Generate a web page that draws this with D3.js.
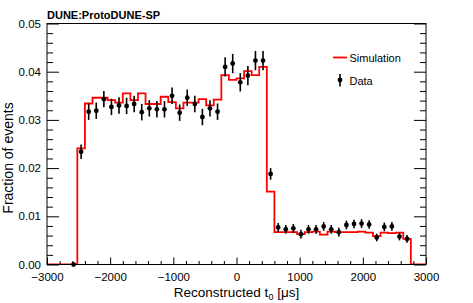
<!DOCTYPE html>
<html>
<head>
<meta charset="utf-8">
<script src="https://cdn.jsdelivr.net/npm/d3@7"></script>
<style>
  body { margin: 0; background: #fff; }
  text { font-family: "Liberation Sans", Arial, Helvetica, sans-serif; }
</style>
</head>
<body>
<div id="chart"></div>
<script>
// bin centres in microseconds (bin width 120)
const binCenters = [-2460, -2340, -2220, -2100, -1980, -1860, -1740, -1620, -1500, -1380,
  -1260, -1140, -1020, -900, -780, -660, -540, -420, -300, -180,
  -60, 60, 180, 300, 420, 540, 660, 780, 900, 1020,
  1140, 1260, 1380, 1500, 1620, 1740, 1860, 1980, 2100, 2220,
  2340, 2460, 2580, 2700];

const simFraction = [0.0241, 0.0334, 0.0346, 0.0346, 0.0341, 0.0336, 0.0355, 0.0341, 0.0355, 0.0333,
  0.0333, 0.0348, 0.0337, 0.0324, 0.0336, 0.0336, 0.0343, 0.0330, 0.0342, 0.0393,
  0.0383, 0.0386, 0.0401, 0.0393, 0.0410, 0.0151, 0.0067, 0.0067, 0.0067, 0.0063,
  0.0067, 0.0068, 0.0062, 0.0068, 0.0067, 0.0067, 0.0067, 0.0068, 0.0066, 0.0059,
  0.0066, 0.0065, 0.0066, 0.0053];

const dataT = [-2580, -2460, -2340, -2220, -2100, -1980, -1860, -1740, -1620, -1500, -1380,
  -1260, -1140, -1020, -900, -780, -660, -540, -420, -300, -180,
  -60, 60, 180, 300, 420, 540, 660, 780, 900, 1020,
  1140, 1260, 1380, 1500, 1620, 1740, 1860, 1980, 2100, 2220,
  2340, 2460, 2580, 2700];

const dataFraction = [0, 0.0234, 0.0317, 0.0319, 0.0343, 0.0327, 0.0330, 0.0329, 0.0333, 0.0316, 0.0324,
  0.0322, 0.0322, 0.0350, 0.0315, 0.0346, 0.0333, 0.0306, 0.0324, 0.0317, 0.0410,
  0.0417, 0.0378, 0.0392, 0.0423, 0.0423, 0.0188, 0.0077, 0.0073, 0.0075, 0.0063,
  0.0073, 0.0073, 0.0079, 0.0073, 0.0067, 0.0082, 0.0084, 0.0085, 0.0083, 0.0056,
  0.0078, 0.0079, 0.0058, 0.0053];

const dataError = [0, 0.0015, 0.0017, 0.0017, 0.0017, 0.0017, 0.0017, 0.0017, 0.0017, 0.0017, 0.0017,
  0.0017, 0.0017, 0.0017, 0.0017, 0.0017, 0.0017, 0.0017, 0.0017, 0.0017, 0.0020,
  0.0020, 0.0019, 0.0020, 0.0020, 0.0020, 0.0012, 0.0009, 0.0009, 0.0009, 0.0009,
  0.0009, 0.0009, 0.0009, 0.0009, 0.0009, 0.0009, 0.0009, 0.0009, 0.0009, 0.0008,
  0.0009, 0.0009, 0.0008, 0.0008];

const xTicks = [-3000, -2000, -1000, 0, 1000, 2000, 3000];
const yTicks = [0, 0.01, 0.02, 0.03, 0.04, 0.05];
const chartTitle = "DUNE:ProtoDUNE-SP";
const legendLabels = ["Simulation", "Data"];

const width = 473, height = 303;
const margin = { top: 23.5, right: 47, bottom: 38.5, left: 47 };
const binWidth = 120;

const svg = d3.select("#chart").append("svg")
  .attr("width", width)
  .attr("height", height);

const x = d3.scaleLinear().domain([-3000, 3000]).range([margin.left, width - margin.right]);
const y = d3.scaleLinear().domain([0, 0.05]).range([height - margin.bottom, margin.top]);

svg.append("clipPath").attr("id", "plot-clip")
  .append("rect")
  .attr("x", margin.left).attr("y", margin.top)
  .attr("width", width - margin.left - margin.right)
  .attr("height", height - margin.top - margin.bottom);

// simulation histogram as a step outline
const steps = [[-3000, 0], [binCenters[0] - binWidth / 2, 0]];
binCenters.forEach((c, i) => {
  steps.push([c - binWidth / 2, simFraction[i]]);
  steps.push([c + binWidth / 2, simFraction[i]]);
});
steps.push([binCenters[binCenters.length - 1] + binWidth / 2, 0]);
steps.push([3000, 0]);

const line = d3.line().x(d => x(d[0])).y(d => y(d[1]));

svg.append("path")
  .datum(steps)
  .attr("clip-path", "url(#plot-clip)")
  .attr("fill", "none")
  .attr("stroke", "#ff0000")
  .attr("stroke-width", 1.8)
  .attr("d", line);

// data points with error bars
const pts = dataT.map((t, i) => ({ t, v: dataFraction[i], e: dataError[i] }));
const gData = svg.append("g");
gData.selectAll("line")
  .data(pts.filter(d => d.e > 0))
  .join("line")
  .attr("x1", d => x(d.t)).attr("x2", d => x(d.t))
  .attr("y1", d => y(d.v - d.e)).attr("y2", d => y(d.v + d.e))
  .attr("stroke", "#000").attr("stroke-width", 1.6);
gData.selectAll("circle")
  .data(pts)
  .join("circle")
  .attr("cx", d => x(d.t)).attr("cy", d => y(d.v))
  .attr("r", 2.4)
  .attr("fill", "#000");

// axes
const minorX = d3.range(-3000, 3001, 200).filter(v => !xTicks.includes(v));
const minorY = d3.range(0, 51, 2).map(v => v / 1000).filter(v => !yTicks.some(t => Math.abs(t - v) < 1e-9));

const fontSize = "11.5px";

svg.append("g")
  .attr("transform", `translate(0,${height - margin.bottom})`)
  .call(d3.axisBottom(x).tickValues(xTicks).tickSizeInner(-7).tickSizeOuter(0).tickPadding(8).tickFormat(d3.format("d")))
  .call(g => g.select(".domain").remove())
  .call(g => g.selectAll("text").attr("font-size", fontSize).attr("fill", "#000").attr("font-family", null));

svg.append("g")
  .attr("transform", `translate(0,${height - margin.bottom})`)
  .call(d3.axisBottom(x).tickValues(minorX).tickSizeInner(-3.5).tickSizeOuter(0).tickFormat(""))
  .call(g => g.select(".domain").remove());

svg.append("g")
  .attr("transform", `translate(${margin.left},0)`)
  .call(d3.axisLeft(y).tickValues(yTicks).tickSizeInner(-12).tickSizeOuter(0).tickPadding(6).tickFormat(d3.format(".2f")))
  .call(g => g.select(".domain").remove())
  .call(g => g.selectAll("text").attr("font-size", fontSize).attr("fill", "#000").attr("font-family", null));

svg.append("g")
  .attr("transform", `translate(${margin.left},0)`)
  .call(d3.axisLeft(y).tickValues(minorY).tickSizeInner(-6).tickSizeOuter(0).tickFormat(""))
  .call(g => g.select(".domain").remove());

svg.append("g")
  .attr("transform", `translate(${width - margin.right},0)`)
  .call(d3.axisRight(y).tickValues(yTicks).tickSizeInner(-12).tickSizeOuter(0).tickFormat(""))
  .call(g => g.select(".domain").remove());

svg.append("g")
  .attr("transform", `translate(${width - margin.right},0)`)
  .call(d3.axisRight(y).tickValues(minorY).tickSizeInner(-6).tickSizeOuter(0).tickFormat(""))
  .call(g => g.select(".domain").remove());

// frame
svg.append("rect")
  .attr("x", margin.left).attr("y", margin.top)
  .attr("width", width - margin.left - margin.right)
  .attr("height", height - margin.top - margin.bottom)
  .attr("fill", "none").attr("stroke", "#000").attr("stroke-width", 1);

// title
svg.append("text")
  .attr("x", margin.left).attr("y", 18.5)
  .attr("font-size", "11px").attr("font-weight", "bold")
  .text(chartTitle);

// axis titles
const xTitle = svg.append("text")
  .attr("x", (margin.left + width - margin.right) / 2).attr("y", 297)
  .attr("text-anchor", "middle").attr("font-size", "13.5px");
xTitle.append("tspan").text("Reconstructed t");
xTitle.append("tspan").attr("font-size", "9px").attr("dy", 3).text("0");
xTitle.append("tspan").attr("dy", -3).text(" [\u03BCs]");

svg.append("text")
  .attr("transform", "translate(13,158) rotate(-90)")
  .attr("text-anchor", "middle").attr("font-size", "14px")
  .text("Fraction of events");

// legend
const lg = svg.append("g");
lg.append("line")
  .attr("x1", 333).attr("x2", 347).attr("y1", 57.5).attr("y2", 57.5)
  .attr("stroke", "#ff0000").attr("stroke-width", 1.8);
lg.append("text").attr("x", 349.5).attr("y", 61.5).attr("font-size", "11px").text(legendLabels[0]);
lg.append("line")
  .attr("x1", 340).attr("x2", 340).attr("y1", 74).attr("y2", 86.5)
  .attr("stroke", "#000").attr("stroke-width", 1.6);
lg.append("circle").attr("cx", 340).attr("cy", 80).attr("r", 2.4).attr("fill", "#000");
lg.append("text").attr("x", 349.5).attr("y", 85).attr("font-size", "11px").text(legendLabels[1]);
</script>
</body>
</html>
